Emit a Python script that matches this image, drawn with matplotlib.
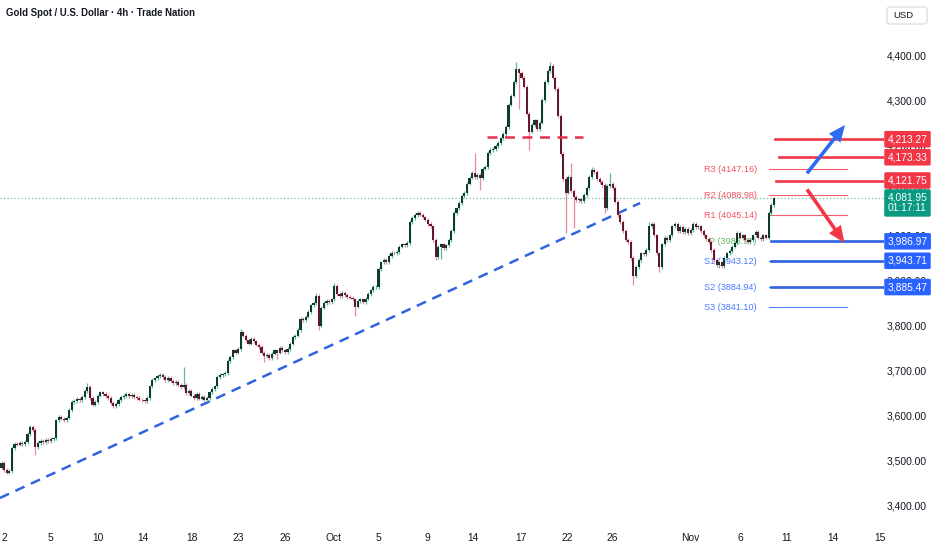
import matplotlib
matplotlib.use("Agg")
import matplotlib.pyplot as plt
import matplotlib.transforms as mtrans
from matplotlib.patches import FancyBboxPatch
import numpy as np

# ---------------- data ----------------
first_open = 3485
closes = [
    3495, 3480, 3474, 3478, 3529, 3538, 3536, 3540, 3537, 3542,
    3560, 3575, 3568, 3530, 3540, 3545, 3542, 3547, 3544, 3548,
    3550, 3590, 3598, 3594, 3590, 3596, 3613, 3630, 3633, 3638,
    3635, 3642, 3655, 3664, 3640, 3625, 3630, 3645, 3652, 3648,
    3644, 3640, 3628, 3622, 3626, 3635, 3642, 3645, 3648, 3644,
    3646, 3642, 3640, 3636, 3634, 3632, 3640, 3665, 3680, 3683,
    3688, 3690, 3686, 3680, 3684, 3678, 3672, 3675, 3668, 3664,
    3668, 3650, 3655, 3645, 3640, 3648, 3638, 3642, 3636, 3640,
    3652, 3660, 3665, 3686, 3690, 3692, 3695, 3722, 3730, 3745,
    3740, 3748, 3785, 3778, 3768, 3760, 3770, 3765, 3758, 3752,
    3740, 3732, 3735, 3728, 3738, 3745, 3740, 3750, 3745, 3742,
    3748, 3760, 3775, 3778, 3790, 3815, 3812, 3820, 3830, 3845,
    3850, 3866, 3800, 3840, 3850, 3855, 3852, 3858, 3888, 3870,
    3866, 3872, 3868, 3864, 3862, 3858, 3842, 3855, 3858, 3852,
    3860, 3870, 3878, 3885, 3886, 3925, 3940, 3945, 3940, 3955,
    3962, 3960, 3963, 3975, 3980, 3978, 3983, 4030, 4038, 4045,
    4050, 4046, 4040, 4035, 4025, 4020, 3990, 3952, 3975, 3980,
    3972, 3978, 3990, 4010, 4050, 4060, 4072, 4088, 4094, 4115,
    4128, 4138, 4130, 4135, 4127, 4148, 4152, 4183, 4190, 4192,
    4198, 4205, 4215, 4225, 4240, 4290, 4310, 4340, 4368, 4360,
    4350, 4330, 4270, 4230, 4245, 4255, 4235, 4250, 4300, 4340,
    4365, 4375, 4350, 4325, 4265, 4180, 4125, 4095, 4130, 4098,
    4085, 4078, 4080, 4076, 4090, 4105, 4130, 4145, 4140, 4125,
    4118, 4112, 4060, 4110, 4115, 4105, 4075, 4045, 4030, 4010,
    3990, 3985, 3950, 3910, 3930, 3945, 3960, 3958, 3968, 4020,
    4025, 4000, 3960, 3930, 3980, 3995, 3990, 4000, 4020, 4025,
    4010, 4018, 4008, 4015, 4005, 4012, 4025, 4018, 4020, 4010,
    4000, 3992, 3985, 3968, 3945, 3935, 3940, 3932, 3950, 3960,
    3965, 3975, 3983, 4005, 3995, 4000, 3990, 3985, 3990, 4000,
    4008, 3995, 3992, 4000, 3995, 4050, 4068, 4081.95,
]
# notable highs / lows (bar index -> price)
high_marks = {33: 3672, 70: 3708, 92: 3792, 121: 3872, 128: 3895, 182: 4183,
              198: 4385, 211: 4385, 219: 4160, 227: 4152, 234: 4138, 249: 4030}
low_marks = {13: 3513, 101: 3720, 106: 3725, 122: 3790, 136: 3822, 167: 3945,
             169: 3948, 184: 4100, 199: 4280, 203: 4190, 217: 4005, 220: 4016,
             232: 4050, 243: 3890, 253: 3919, 276: 3928}
typical_wick = 4

tick_labels = ["2", "5", "10", "14", "18", "23", "26", "Oct", "5", "9", "14",
               "17", "22", "26", "Nov", "6", "11", "14", "15"]
tick_bars = [1, 18.7, 37, 54.4, 73.3, 91, 109, 127.5, 144.8, 163.7, 181.3,
             199.8, 217.5, 234.8, 264.8, 284, 302, 319.8, 338]
price_ticks = [3400, 3500, 3600, 3700, 3800, 3900, 4000, 4100, 4200, 4300, 4400]

last_price = 4081.95
countdown = "01:17:11"
resist_levels = [4213.27, 4173.33, 4121.75]
resist_start = [297.5, 299, 298]
support_levels = [3986.97, 3943.71, 3885.47]
support_start = [296, 296, 296]
pivot_names = ["R3", "R2", "R1", "P", "S1", "S2", "S3"]
pivot_values = [4147.16, 4088.98, 4045.14, 3986.97, 3943.12, 3884.94, 3841.10]
pivot_span = (295, 325)
trend_pts = ([-0.6, 245.6], [3417.8, 4071.8])
neck_pts = ([186.7, 223.7], 4219)
blue_arrow = ((309.8, 4137.7), (324.4, 4244.8))
red_arrow = ((309.8, 4102.0), (324.2, 3983.8))

# ---------------- figure ----------------
W, H = 932, 550
fig = plt.figure(figsize=(W / 100, H / 100), dpi=100)
ax_w = 884 / W
ax_h = 522 / H
ax = fig.add_axes([0, 1 - ax_h, ax_w, ax_h])
ax.set_xlim(-0.58, 339.4)
ax.set_ylim(3364.5, 4522.0)
for s in ax.spines.values():
    s.set_visible(False)

RED = "#f23645"
BLUE = "#2962ff"
GREEN = "#089981"
TXT = "#131722"
FONT = ["Liberation Sans", "DejaVu Sans"]

# candles
c = np.array(closes, dtype=float)
o = np.concatenate([[first_open], c[:-1]])
x = np.arange(len(c))
hi = np.maximum(o, c) + typical_wick
lo = np.minimum(o, c) - typical_wick
for k, v in high_marks.items():
    hi[k] = max(hi[k], v)
for k, v in low_marks.items():
    lo[k] = min(lo[k], v)
up = c >= o
body_up, body_dn = "#0f3a2e", "#5e1a2a"
wick_up, wick_dn = "#5fb8a6", "#ea8a98"
ax.vlines(x[up], lo[up], hi[up], color=wick_up, lw=0.9, zorder=3)
ax.vlines(x[~up], lo[~up], hi[~up], color=wick_dn, lw=0.9, zorder=3)
hgt = np.maximum(np.abs(c - o), 1.5)
ax.bar(x[up], hgt[up], bottom=np.minimum(o, c)[up], width=0.8,
       color=body_up, linewidth=0, zorder=4)
ax.bar(x[~up], hgt[~up], bottom=np.minimum(o, c)[~up], width=0.8,
       color=body_dn, linewidth=0, zorder=4)

# current price dotted line
ax.axhline(last_price, color=GREEN, lw=0.9, ls=(0, (1, 1.8)), alpha=0.6, zorder=1)

# trend line & neckline
ax.plot(trend_pts[0], trend_pts[1], color="#2f63e0", lw=1.8,
        dashes=(4, 2.8), zorder=2)
ax.plot(neck_pts[0], [neck_pts[1]] * 2, color="#e5334b", lw=1.8,
        dashes=(4, 3), zorder=5)

# pivot lines and labels
for name, val in zip(pivot_names, pivot_values):
    col = RED if name.startswith("R") else (BLUE if name.startswith("S") else "#4caf50")
    if name != "P":
        ax.plot(pivot_span, [val, val], color=col, lw=0.8, alpha=0.8, zorder=2)
    ax.text(pivot_span[0] - 4.5, val, f"{name} ({val:.2f})", color=col,
            alpha=0.85, fontsize=6.6, family=FONT, ha="right", va="center", zorder=2)

# key levels
for val, st in zip(resist_levels, resist_start):
    ax.plot([st, 339.4], [val, val], color=RED, lw=1.9, zorder=5)
for val, st in zip(support_levels, support_start):
    ax.plot([st, 339.4], [val, val], color="#2f63e0", lw=1.9, zorder=5)

# arrows
for (p0, p1), col in ((blue_arrow, "#2f6bf0"), (red_arrow, RED)):
    ax.annotate("", xy=p1, xytext=p0,
                arrowprops=dict(arrowstyle="simple,head_length=1.2,head_width=1.05,tail_width=0.26",
                                color=col, shrinkA=0, shrinkB=0, lw=0),
                zorder=6)

# axes ticks
ax.yaxis.tick_right()
ax.set_yticks(price_ticks)
ax.set_yticklabels([f"{p:,.2f}" for p in price_ticks])
ax.tick_params(axis="y", length=0, pad=2, labelsize=7.4, labelcolor=TXT)
ax.set_xticks(tick_bars)
ax.set_xticklabels(tick_labels)
ax.tick_params(axis="x", length=0, pad=8, labelsize=7.4, labelcolor=TXT)
for lab in ax.get_xticklabels() + ax.get_yticklabels():
    lab.set_family(FONT)
for lab in ax.get_yticklabels():
    lab.set_horizontalalignment("left")

# price tags on axis
tr = mtrans.blended_transform_factory(ax.transAxes, ax.transData)
tag_x = 1.004
tag_box = dict(boxstyle="round,pad=0.32,rounding_size=0.15", ec="none")
for val in resist_levels:
    ax.text(tag_x, val, f"{val:,.2f}", transform=tr, color="white", fontsize=7.4,
            family=FONT, ha="left", va="center", zorder=10, clip_on=False,
            bbox=dict(tag_box, fc=RED))
for val in support_levels:
    ax.text(tag_x, val, f"{val:,.2f}", transform=tr, color="white", fontsize=7.4,
            family=FONT, ha="left", va="center", zorder=10, clip_on=False,
            bbox=dict(tag_box, fc=BLUE))
ax.text(tag_x, last_price + 13, f"{last_price:,.2f}\n{countdown}", transform=tr,
        color="white", fontsize=7.4, family=FONT, ha="left", va="top",
        linespacing=1.1, zorder=10, clip_on=False,
        bbox=dict(tag_box, fc=GREEN))

# title & currency box
fig.text(6 / W, 1 - 13 / H, "Gold Spot / U.S. Dollar · 4h · Trade Nation",
         fontsize=6.9, fontweight="bold", color=TXT,
         family=["Liberation Sans Narrow", "Liberation Sans", "DejaVu Sans"],
         ha="left", va="center")
fig.patches.append(FancyBboxPatch((887 / W, 1 - 24 / H), 40 / W, 17 / H,
                                  boxstyle="round,pad=0,rounding_size=0.004",
                                  transform=fig.transFigure, fc="white",
                                  ec="#d6d9e0", lw=0.8))
fig.text(893 / W, 1 - 15.5 / H, "USD", fontsize=6.8, color=TXT, family=FONT,
         ha="left", va="center")

fig.savefig("out.png", dpi=100)
